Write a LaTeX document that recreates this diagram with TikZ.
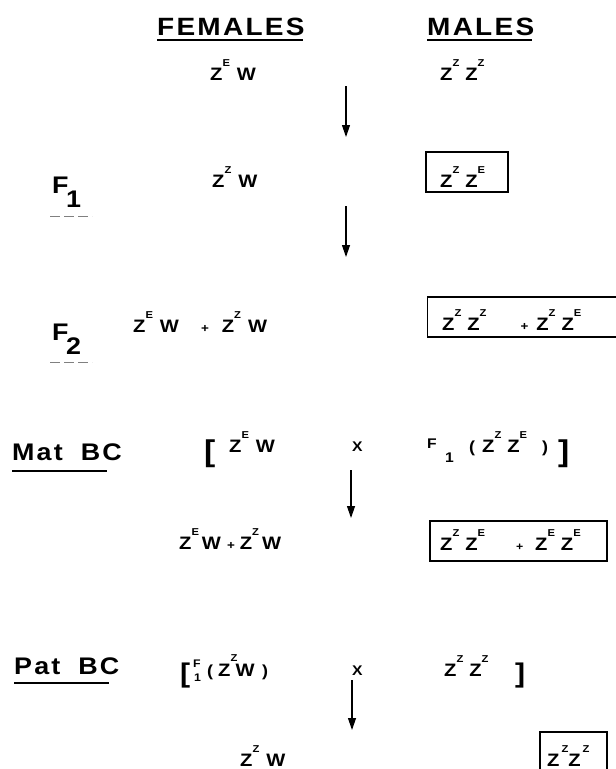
\documentclass[tikz,border=0pt]{standalone}
\usepackage{fontspec}
\setmainfont{Liberation Sans}[FakeStretch=1.12]
\usetikzlibrary{arrows.meta}
\newcommand\gs[1]{\raisebox{13.5pt}{\fontsize{10}{10}\selectfont #1}}
\newcommand\gbig{\fontsize{18}{18}\selectfont\bfseries}
\newcommand\zz[2]{Z\gs{#1}\hspace{6pt}Z\gs{#2}}
\newcommand\zw[1]{Z\gs{#1}\hspace{7pt}W}
\newcommand\pls{{\fontsize{12}{12}\selectfont +}}
\begin{document}
\begin{tikzpicture}[x=1pt,y=-1pt,
  txt/.style={inner sep=0pt, anchor=base west, font=\gbig},
  head/.style={inner sep=0pt, anchor=base west, font=\fontsize{25}{25}\selectfont\bfseries\addfontfeature{LetterSpace=9}},
  lbl/.style={inner sep=0pt, anchor=base west, font=\fontsize{24}{24}\selectfont\bfseries},
  wlbl/.style={inner sep=0pt, anchor=base west, font=\fontsize{24}{24}\selectfont\bfseries\addfontfeature{LetterSpace=9}},
  sm/.style={inner sep=0pt, anchor=base west, font=\fontsize{14}{14}\selectfont\bfseries},
  par/.style={inner sep=0pt, anchor=base west, font=\fontsize{16}{16}\selectfont\bfseries},
  xs/.style={inner sep=0pt, anchor=base west, font=\fontsize{11}{11}\selectfont\bfseries},
  brk/.style={inner sep=0pt, anchor=base west, font=\fontsize{30}{30}\selectfont\bfseries},
  gbox/.style={draw, line width=1.4pt, inner sep=0pt},
  ul/.style={line width=1.5pt},
  dashu/.style={line width=1pt, gray, dash pattern=on 10pt off 4pt},
  arr/.style={line width=1.2pt, -{Triangle[length=12pt,width=8pt]}}
]
\useasboundingbox (0,0) rectangle (616,769);
% headings
\node[head] (fem) at (157,35) {FEMALES};
\node[head] (mal) at (427,35) {MALES};
\draw[ul] ([yshift=-5pt]fem.base west) -- ([yshift=-5pt,xshift=-2pt]fem.base east);
\draw[ul] ([yshift=-5pt]mal.base west) -- ([yshift=-5pt,xshift=-2pt]mal.base east);
% row 1
\node[txt] (f0) at (210,80) {\zw{E}};
\node[txt] (m0) at (440,80) {\zz{Z}{Z}};
\coordinate (a1s) at (346,86); \coordinate (a1e) at (346,137);
\draw[arr] (a1s) -- (a1e);
% row 2 (F1)
\node[lbl] (F1) at (52,193) {F};
\node[lbl] (F1s) at (66,207) {1};
\coordinate (d1a) at (50,216); \coordinate (d1b) at (92,216);
\draw[dashu] (d1a) -- (d1b);
\node[txt] (f1) at (212,187) {\zw{Z}};
\node[gbox, minimum width=82pt, minimum height=40pt] (b1) at (467,172) {};
\node[txt] (m1) at (440,187) {\zz{Z}{E}};
\coordinate (a2s) at (346,206); \coordinate (a2e) at (346,257);
\draw[arr] (a2s) -- (a2e);
% row 3 (F2)
\node[lbl] (F2) at (52,340) {F};
\node[lbl] (F2s) at (66,354) {2};
\coordinate (d2a) at (50,362); \coordinate (d2b) at (92,362);
\draw[dashu] (d2a) -- (d2b);
\node[txt] (f2) at (133,332) {\zw{E}\hspace{22pt}\pls\hspace{13pt}\zw{Z}};
\node[gbox, minimum width=191pt, minimum height=40pt] (b2) at (523,317) {};
\node[txt] (m2) at (442,330) {\zz{Z}{Z}\hspace{34pt}\pls\hspace{8pt}\zz{Z}{E}};
% row 4 (Mat BC)
\node[wlbl] (mat) at (12,460) {Mat\hspace{18pt}BC};
\coordinate (u1a) at (12,471); \coordinate (u1b) at (107,471);
\draw[ul] (u1a) -- (u1b);
\node[brk] (lb1) at (204,461) {[};
\node[txt] (f3) at (229,452) {\zw{E}};
\node[sm] (x1) at (352,451) {X};
\node[sm] (F1a) at (427,448) {F};
\node[sm] (F1b) at (445,462) {1};
\node[par] (p1) at (469,452) {(};
\node[txt] (m3) at (482,452) {\zz{Z}{E}};
\node[par] (p2) at (542,452) {)};
\node[brk] (rb1) at (558,461) {]};
\coordinate (a3s) at (351,470); \coordinate (a3e) at (351,518);
\draw[arr] (a3s) -- (a3e);
% row 5
\node[txt] (f4) at (179,549) {Z\gs{E}\hspace{3pt}W\hspace{6pt}\pls\hspace{5pt}Z\gs{Z}\hspace{3pt}W};
\node[gbox, minimum width=177pt, minimum height=40pt] (b3) at (518.5,541) {};
\node[txt] (m4a) at (440,550) {\zz{Z}{E}};
\node[xs] (pl4) at (516,550) {+};
\node[txt] (m4b) at (535,550) {\zz{E}{E}};
% row 6 (Pat BC)
\node[wlbl] (pat) at (14,674) {Pat\hspace{18pt}BC};
\coordinate (u2a) at (14,683); \coordinate (u2b) at (109,683);
\draw[ul] (u2a) -- (u2b);
\node[brk, font=\fontsize{27}{27}\selectfont\bfseries] (lb2) at (180,682) {[};
\node[xs] (F1c) at (193,667) {F};
\node[xs] (F1d) at (194,681) {1};
\node[par] (p3) at (207,676) {(};
\node[txt] (f5) at (218,676) {Z\rlap{\raisebox{14.5pt}{\fontsize{10}{10}\selectfont Z}}\hspace{5pt}W};
\node[par] (p4) at (262,676) {)};
\node[sm] (x2) at (352,675) {X};
\node[txt] (m5) at (444,676) {\zz{Z}{Z}};
\node[brk, font=\fontsize{27}{27}\selectfont\bfseries] (rb2) at (515,682) {]};
\coordinate (a4s) at (352,680); \coordinate (a4e) at (352,730);
\draw[arr] (a4s) -- (a4e);
% row 7
\node[txt] (f6) at (240,766) {\zw{Z}};
\node[gbox, minimum width=67pt, minimum height=40pt] (b4) at (573.5,752) {};
\node[txt] (m6) at (547,766) {Z\hspace{2pt}\gs{Z}Z\hspace{2pt}\gs{Z}};
\end{tikzpicture}
\end{document}
